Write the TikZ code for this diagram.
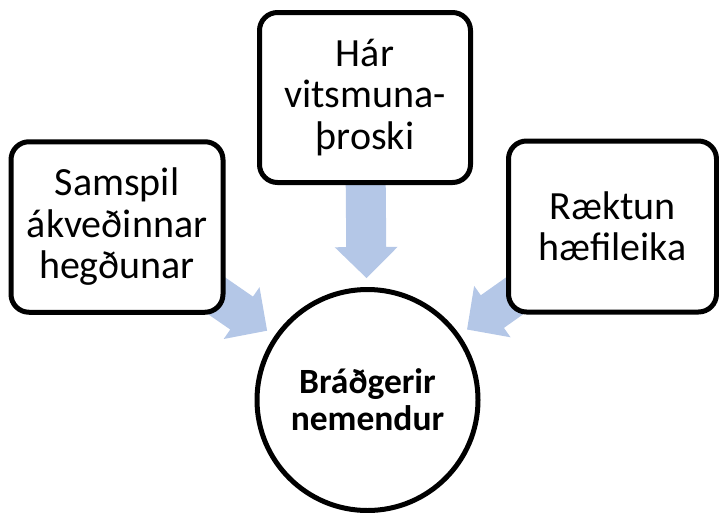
\documentclass[tikz,border=0pt]{standalone}
\usepackage{fontspec}
\setmainfont{Carlito}
\usetikzlibrary{calc}
\pgfdeclarelayer{bg}
\pgfsetlayers{bg,main}
\definecolor{arrowblue}{HTML}{B4C7E7}
\tikzset{
  outerbox/.style={draw=black, line width=5pt, rounded corners=18pt, fill=white,
    align=center, inner sep=0pt, font=\fontsize{40}{41.5}\selectfont},
  hubcircle/.style={draw=black, line width=5pt, circle, fill=white, inner sep=0pt,
    minimum size=221pt, align=center, font=\fontsize{35.5}{37}\selectfont\bfseries},
  blockarrow/.style={fill=arrowblue, draw=none}
}
\newcommand\blockarr[2]{%
  \coordinate (#1-tip) at ($(#2.center)!122pt!(#1.center)$);
  \coordinate (#1-tail) at ($(#2.center)!225pt!(#1.center)$);
  \coordinate (#1-hb) at ($(#1-tip)!31pt!(#1-tail)$);
  \begin{pgfonlayer}{bg}
  \path[blockarrow] ($(#1-tail)!20pt!90:(#1-tip)$) -- ($(#1-hb)!20pt!90:(#1-tip)$)
    -- ($(#1-hb)!31.5pt!90:(#1-tip)$) -- (#1-tip) -- ($(#1-hb)!31.5pt!-90:(#1-tip)$)
    -- ($(#1-hb)!20pt!-90:(#1-tip)$) -- ($(#1-tail)!20pt!-90:(#1-tip)$) -- cycle;
  \end{pgfonlayer}%
}
\begin{document}
\begin{tikzpicture}[x=1pt, y=-1pt]
  \useasboundingbox (0,0) rectangle (719,512);
  \node[outerbox, minimum width=212pt, minimum height=170.5pt] (left) at (117,227)
    {Samspil\\ákveðinnar\\hegðunar};
  \node[outerbox, minimum width=211pt, minimum height=170pt] (top) at (365,97.5)
    {Hár\\vitsmuna-\\þroski};
  \node[outerbox, minimum width=208pt, minimum height=171pt] (right) at (612.5,226.5)
    {Ræktun\\hæfileika};
  \node[hubcircle] (hub) at (367.5,400) {Bráðgerir\\nemendur};
  \blockarr{left}{hub}
  \blockarr{top}{hub}
  \blockarr{right}{hub}
\end{tikzpicture}
\end{document}
